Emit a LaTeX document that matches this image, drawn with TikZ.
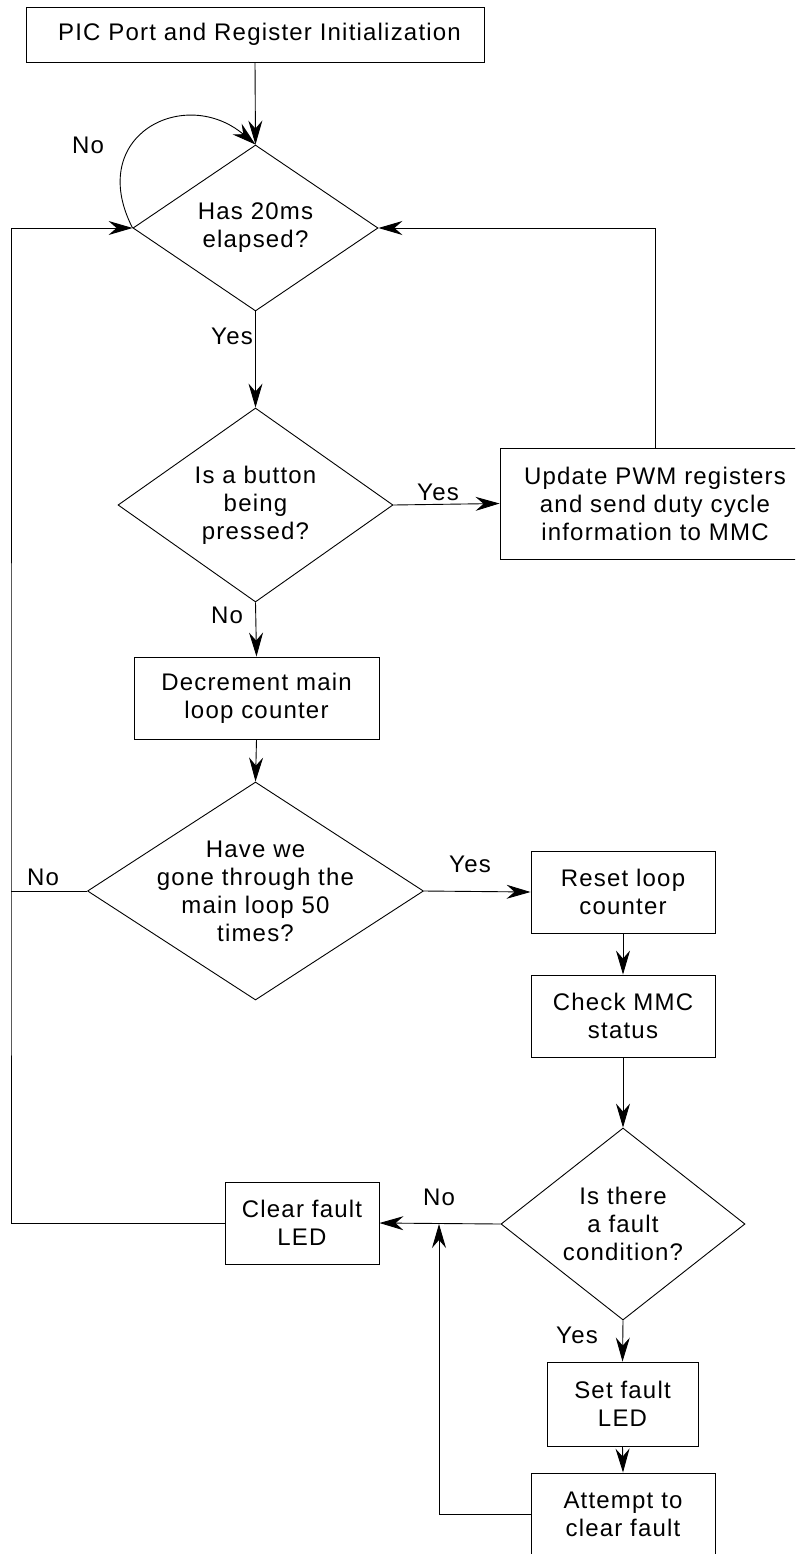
\documentclass[tikz,border=0pt]{standalone}
\usepackage{fontspec}
\setmainfont[LetterSpace=5]{Liberation Sans}
\usetikzlibrary{shapes.geometric,arrows.meta}
\begin{document}
\begin{tikzpicture}[x=1pt,y=-1pt,
  txt/.style={font=\fontsize{24}{28}\selectfont},
  box/.style={draw, line width=0.9pt, inner sep=0pt, align=center, txt},
  dia/.style={draw, diamond, line width=0.9pt, inner sep=0pt},
  dtext/.style={txt, align=center},
  lbl/.style={txt, inner sep=0pt},
  ln/.style={line width=0.9pt},
  arr/.style={ln, -{Stealth[length=24pt,width=14pt,inset=8pt]}}]
\useasboundingbox (0,0) rectangle (795,1554);
\clip (0,0) rectangle (795,1554);
% nodes
\node[box, minimum width=458pt, minimum height=55pt] (init) at (255,34.5) {\hspace*{9pt}PIC Port and Register Initialization};
\node[dia, minimum width=245pt, minimum height=166pt,
      label={[dtext]center:Has 20ms\\elapsed?}] (d1) at (255.5,228) {};
\node[dia, minimum width=275pt, minimum height=194pt,
      label={[dtext]center:Is a button\\being\\pressed?}] (d2) at (255.5,505) {};
\node[box, minimum width=310pt, minimum height=111pt] (upd) at (655,503.5) {Update PWM registers\\and send duty cycle\\information to MMC};
\node[box, minimum width=245pt, minimum height=82pt] (dec) at (256.5,698) {Decrement main\\loop counter};
\node[dia, minimum width=336pt, minimum height=218pt,
      label={[dtext]center:Have we\\gone through the\\main loop 50\\times?}] (d3) at (255.5,891) {};
\node[box, minimum width=184pt, minimum height=82pt] (rst) at (623,892) {Reset loop\\counter};
\node[box, minimum width=184pt, minimum height=82pt] (chk) at (623,1016) {Check MMC\\status};
\node[dia, minimum width=244pt, minimum height=192pt,
      label={[dtext]center:Is there\\a fault\\condition?}] (d4) at (623,1224) {};
\node[box, minimum width=154pt, minimum height=82pt] (clr) at (302,1223) {Clear fault\\LED};
\node[box, minimum width=151pt, minimum height=84pt] (set) at (622.5,1404) {Set fault\\LED};
\node[box, minimum width=184pt, minimum height=82pt] (att) at (623,1514) {Attempt to\\clear fault};
% labels
\node[lbl] (l1) at (88,145) {No};
\node[lbl] (l2) at (232,336) {Yes};
\node[lbl] (l3) at (438,492) {Yes};
\node[lbl] (l4) at (227,615) {No};
\node[lbl] (l5) at (43,877) {No};
\node[lbl] (l6) at (470,864) {Yes};
\node[lbl] (l7) at (439,1197) {No};
\node[lbl] (l8) at (577,1335) {Yes};
% helper coordinates
\coordinate (L) at (11,891);
\coordinate (J) at (439,1224);
% connectors
\draw[arr] (init.south) -- (d1.north);
\draw[arr] (d1.west) .. controls (85,135) and (185,85) .. (d1.north);
\draw[arr] (d1.south) -- (d2.north);
\draw[arr] (d2.east) -- (upd.west);
\draw[arr] (upd.north) |- (d1.east);
\draw[arr] (d2.south) -- (dec.north);
\draw[arr] (dec.south) -- (d3.north);
\draw[ln] (d3.west) -- (L);
\draw[arr] (clr.west) -| (L) |- (d1.west);
\draw[arr] (d3.east) -- (rst.west);
\draw[arr] (rst.south) -- (chk.north);
\draw[arr] (chk.south) -- (d4.north);
\draw[arr] (d4.west) -- (clr.east);
\draw[arr] (d4.south) -- (set.north);
\draw[arr] (set.south) -- (att.north);
\draw[arr] (att.west) -| (J);
\end{tikzpicture}
\end{document}
